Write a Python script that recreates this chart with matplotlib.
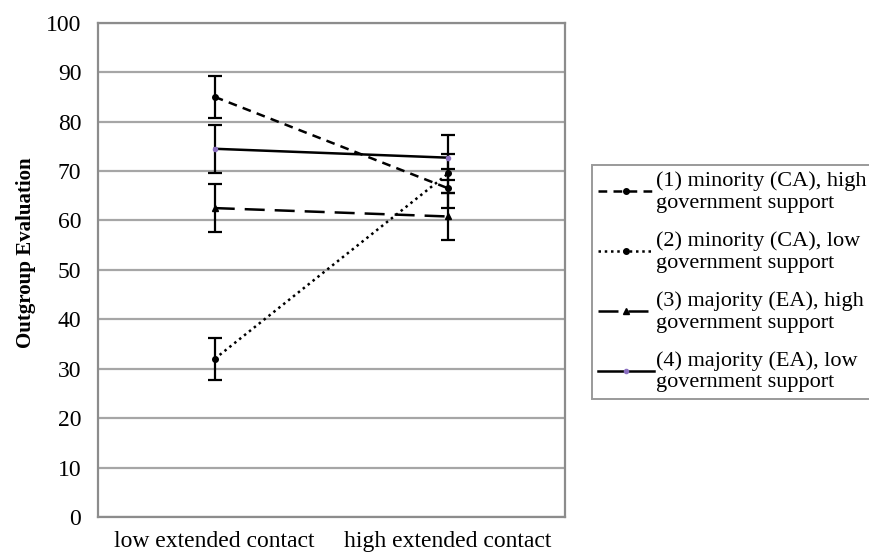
#outgroup evaluation by extended contact condition
import numpy as np
import matplotlib.pyplot as plt

plt.rcParams['font.family'] = ['Liberation Serif', 'DejaVu Serif']

#data
conditions = ['low extended contact', 'high extended contact']
labels = ['(1) minority (CA), high\ngovernment support',
          '(2) minority (CA), low\ngovernment support',
          '(3) majority (EA), high\ngovernment support',
          '(4) majority (EA), low\ngovernment support']
s1 = [85.0, 66.5]
s2 = [32.0, 69.5]
s3 = [62.5, 60.8]
s4 = [74.5, 72.7]
e1 = [4.3, 4.0]
e2 = [4.3, 4.0]
e3 = [4.9, 4.8]
e4 = [4.8, 4.6]
yticks = [0, 10, 20, 30, 40, 50, 60, 70, 80, 90, 100]

fig = plt.figure(figsize=(8.69, 5.55), dpi=100)
ax = fig.add_axes([0.1128, 0.0685, 0.5372, 0.8905])

x = np.arange(len(conditions))
styles = [
    dict(ls=(0, (3.5, 2.5)), marker='o', ms=4, mfc='black', mec='black'),
    dict(ls=(0, (1, 1.5)), marker='o', ms=4, mfc='black', mec='black'),
    dict(ls=(0, (8, 4)), marker='^', ms=5, mfc='black', mec='black'),
    dict(ls='-', marker='o', ms=3, mfc='#8a6fc0', mec='#8a6fc0'),
]
handles = []
for vals, errs, st in zip([s1, s2, s3, s4], [e1, e2, e3, e4], styles):
    ax.errorbar(x, vals, yerr=errs, fmt='none', ecolor='black', elinewidth=1.6,
                capsize=5, capthick=1.6, zorder=3)
    h, = ax.plot(x, vals, color='black', lw=1.8, zorder=4, **st)
    handles.append(h)

ax.set_xlim(-0.5, 1.5)
ax.set_ylim(0, 100)
ax.set_yticks(yticks)
ax.set_xticks(x)
ax.set_xticklabels(conditions, fontsize=17)
ax.tick_params(axis='y', labelsize=17, length=0, pad=12)
ax.tick_params(axis='x', length=0, pad=10)
ax.yaxis.grid(True, color='#a6a6a6', lw=1.6)
ax.set_axisbelow(True)
for sp in ax.spines.values():
    sp.set_color('#8c8c8c')
    sp.set_linewidth(1.6)
ax.set_ylabel('Outgroup Evaluation', fontsize=15, fontweight='bold')
ax.yaxis.set_label_coords(-0.132, 0.535)

leg = fig.legend(handles, labels, loc='upper left', bbox_to_anchor=(0.681, 0.703),
                 fontsize=16, frameon=True, fancybox=False, edgecolor='#808080',
                 handlelength=2.5, handletextpad=0.1, borderpad=0.3,
                 labelspacing=0.82, borderaxespad=0)
leg.get_frame().set_linewidth(1.4)

fig.savefig('out.png', dpi=100)
